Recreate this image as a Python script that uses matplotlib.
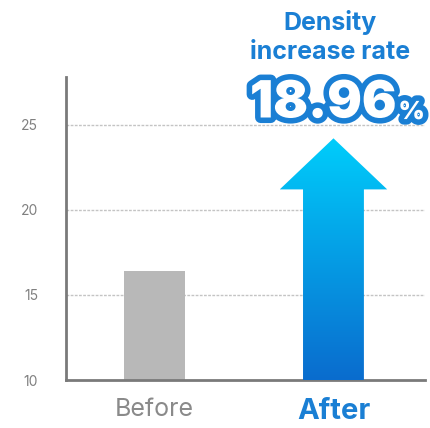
import numpy as np
import matplotlib.pyplot as plt
import matplotlib.patheffects as pe
from matplotlib.patches import Polygon
from matplotlib.colors import LinearSegmentedColormap

categories = ["Before", "After"]
values = [16.4, 24.2]
rate = 18.96
yticks = [10, 15, 20, 25]

plt.rcParams['font.family'] = ['Inter', 'DejaVu Sans']

fig = plt.figure(figsize=(4.31, 4.28), dpi=100)
ax = fig.add_axes([0.153, 0.112, 0.833, 0.708])

x = np.arange(len(categories))
ax.set_xlim(-0.494, 1.511)
ax.set_ylim(10, 27.8)

# before bar
ax.bar(x[0], values[0] - 10, bottom=10, width=0.34, color='#b8b8b8', zorder=2)

# after: gradient arrow
xc = x[1]
top = values[1]
head_base = top - 3.0
sw, hw = 0.17, 0.30
verts = [(xc - sw, 10), (xc - sw, head_base), (xc - hw, head_base), (xc, top),
         (xc + hw, head_base), (xc + sw, head_base), (xc + sw, 10)]
arrow = Polygon(verts, closed=True, facecolor='none', edgecolor='none')
ax.add_patch(arrow)
grad = np.linspace(0, 1, 256).reshape(-1, 1)
cmap = LinearSegmentedColormap.from_list('blu', ['#0a6cce', '#00cdfb'])
im = ax.imshow(grad, cmap=cmap, aspect='auto', origin='lower',
               extent=[xc - hw, xc + hw, 10, top], zorder=3)
im.set_clip_path(arrow)

ax.set_yticks(yticks)
ax.set_yticklabels([str(t) for t in yticks], color='#808080', fontsize=10)
ax.tick_params(axis='y', length=0, pad=20)
ax.tick_params(axis='x', length=0, pad=13)
ax.set_xticks(x)
ax.set_xticklabels(categories)
lbls = ax.get_xticklabels()
lbls[0].set_color('#8a8a8a')
lbls[0].set_fontsize(18)
lbls[1].set_color('#1a7fd4')
lbls[1].set_fontsize(21)
lbls[1].set_fontweight('bold')

for t in yticks[1:]:
    ax.axhline(t, color='#c4c4c4', lw=1, ls=(0, (2, 1)), zorder=1)

for s in ['top', 'right']:
    ax.spines[s].set_visible(False)
for s in ['left', 'bottom']:
    ax.spines[s].set_color('#7a7a7a')
    ax.spines[s].set_linewidth(2)

fig.text(0.766, 0.947, "Density", ha='center', va='center', color='#1a7fd4',
         fontsize=18, fontweight='bold')
fig.text(0.766, 0.877, "increase rate", ha='center', va='center', color='#1a7fd4',
         fontsize=18, fontweight='bold')

stroke = [pe.withStroke(linewidth=8, foreground='#1a7fd4')]
fig.text(0.750, 0.757, f"{rate:.2f}", ha='center', va='center', color='white',
         fontsize=37, fontweight='black', path_effects=stroke)
fig.text(0.955, 0.737, "%", ha='center', va='center', color='white',
         fontsize=18, fontweight='black', path_effects=stroke)

fig.savefig('out.png', dpi=100)
